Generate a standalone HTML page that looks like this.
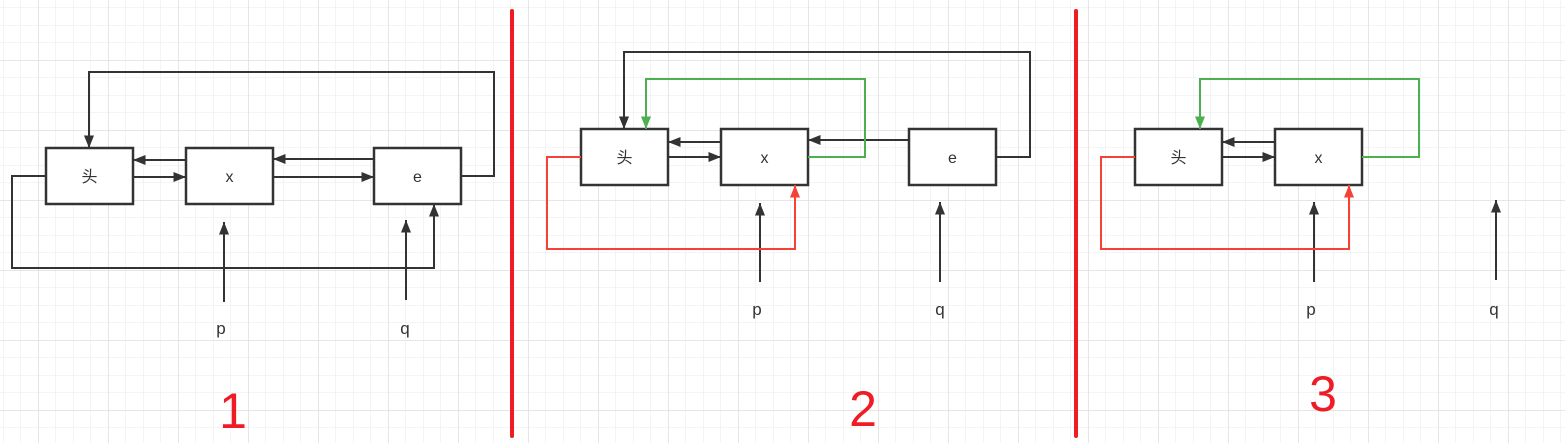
<!DOCTYPE html>
<html><head><meta charset="utf-8"><style>
html,body{margin:0;padding:0;background:#fff;}
svg{display:block;}
text{font-family:"Liberation Sans","Noto Sans CJK SC",sans-serif;}
</style></head><body>
<svg width="1565" height="443" viewBox="0 0 1565 443" xmlns="http://www.w3.org/2000/svg">
<defs>
<pattern id="minor" x="3" y="7.5" width="17.5" height="17.5" patternUnits="userSpaceOnUse">
<path d="M0 0V17.5M0 0H17.5" stroke="#e8e8e8" stroke-width="1" fill="none"/>
</pattern>
<pattern id="major" x="38" y="60" width="70" height="70" patternUnits="userSpaceOnUse">
<path d="M0 0V70M0 0H70" stroke="#dedede" stroke-width="1.5" fill="none"/>
</pattern>
<marker id="k" viewBox="0 0 10 8" refX="10" refY="4" markerWidth="14" markerHeight="10" orient="auto" markerUnits="userSpaceOnUse"><path d="M0 0L10 4L0 8Z" fill="#333"/></marker>
<marker id="g" viewBox="0 0 10 8" refX="10" refY="4" markerWidth="14" markerHeight="10" orient="auto" markerUnits="userSpaceOnUse"><path d="M0 0L10 4L0 8Z" fill="#4caf50"/></marker>
<marker id="r" viewBox="0 0 10 8" refX="10" refY="4" markerWidth="14" markerHeight="10" orient="auto" markerUnits="userSpaceOnUse"><path d="M0 0L10 4L0 8Z" fill="#f44336"/></marker>
</defs>
<rect width="1565" height="443" fill="url(#minor)"/>
<rect width="1565" height="443" fill="url(#major)"/>

<g fill="#fff" stroke="#333" stroke-width="2.5">
<rect x="46" y="148" width="87" height="56"/>
<rect x="186" y="148" width="87" height="56"/>
<rect x="374" y="148" width="87" height="56"/>
<rect x="581" y="129" width="87" height="56"/>
<rect x="721" y="129" width="87" height="56"/>
<rect x="909" y="129" width="87" height="56"/>
<rect x="1135" y="129" width="87" height="56"/>
<rect x="1275" y="129" width="87" height="56"/>
</g>

<g fill="none" stroke="#333" stroke-width="2">
<path d="M461 176H494V72H89V148" marker-end="url(#k)"/>
<path d="M186 160H133" marker-end="url(#k)"/>
<path d="M133 177H186" marker-end="url(#k)"/>
<path d="M374 159H273" marker-end="url(#k)"/>
<path d="M273 177H374" marker-end="url(#k)"/>
<path d="M46 176H12V268H434V204" marker-end="url(#k)"/>
<path d="M224 302V222" marker-end="url(#k)"/>
<path d="M406 300V220" marker-end="url(#k)"/>
<path d="M996 157H1030V52H624V129" marker-end="url(#k)"/>
<path d="M721 142H668" marker-end="url(#k)"/>
<path d="M668 157H721" marker-end="url(#k)"/>
<path d="M909 140H808" marker-end="url(#k)"/>
<path d="M760 282V203" marker-end="url(#k)"/>
<path d="M940 282V202" marker-end="url(#k)"/>
<path d="M1275 142H1222" marker-end="url(#k)"/>
<path d="M1222 157H1275" marker-end="url(#k)"/>
<path d="M1314 282V202" marker-end="url(#k)"/>
<path d="M1496 280V200" marker-end="url(#k)"/>
</g>
<g fill="none" stroke-width="2">
<path d="M808 157H865V79H646V129" stroke="#4caf50" marker-end="url(#g)"/>
<path d="M581 157H547V249H795V185" stroke="#f44336" marker-end="url(#r)"/>
<path d="M1362 157H1419V79H1200V129" stroke="#4caf50" marker-end="url(#g)"/>
<path d="M1135 157H1101V249H1349V185" stroke="#f44336" marker-end="url(#r)"/>
</g>

<g stroke="#ee1c25" stroke-width="4" stroke-linecap="round">
<line x1="512" y1="11" x2="512" y2="436"/>
<line x1="1076" y1="11" x2="1076" y2="436"/>
</g>

<g fill="#333" font-size="16" text-anchor="middle">
<text x="89.5" y="182">头</text>
<text x="229.5" y="182">x</text>
<text x="417.5" y="182">e</text>
<text x="624.5" y="163">头</text>
<text x="764.5" y="163">x</text>
<text x="952.5" y="163">e</text>
<text x="1178.5" y="163">头</text>
<text x="1318.5" y="163">x</text>
</g>
<g fill="#333" font-size="17" text-anchor="middle">
<text x="221" y="334">p</text>
<text x="405" y="334">q</text>
<text x="757" y="315">p</text>
<text x="940" y="315">q</text>
<text x="1311" y="315">p</text>
<text x="1494" y="315">q</text>
</g>
<g fill="#ee1c25" font-size="50" text-anchor="middle">
<text x="233" y="428">1</text>
<text x="863" y="426">2</text>
<text x="1323" y="411">3</text>
</g>
</svg>
</body></html>
